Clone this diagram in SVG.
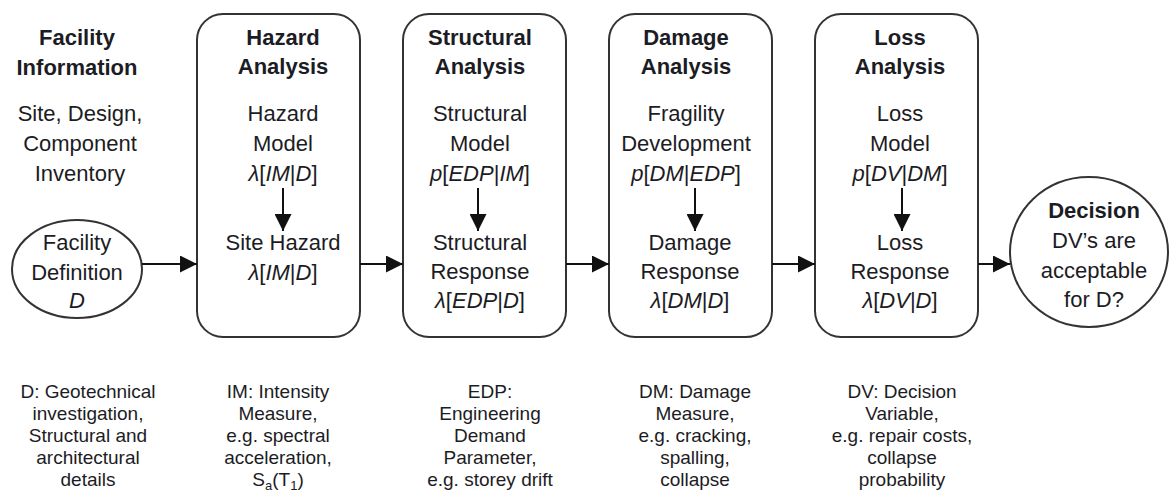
<svg xmlns="http://www.w3.org/2000/svg" width="1172" height="496" viewBox="0 0 1172 496">
<style>
text{font-family:"Liberation Sans",Arial,sans-serif;fill:#1c1c24;text-anchor:middle}
.t{font-size:22px}
.b{font-size:22px;font-weight:bold}
.s{font-size:19px}
.i{font-style:italic}
.box{fill:#fff;stroke:#333;stroke-width:2}
.ln{stroke:#111;stroke-width:2;fill:none}
</style>
<defs>
<marker id="ah" viewBox="0 0 10 10" refX="10" refY="5" markerWidth="8" markerHeight="8" markerUnits="userSpaceOnUse" orient="auto">
<path d="M0,0 L10,5 L0,10 z" fill="#111"/>
</marker>
<marker id="ahb" viewBox="0 0 10 10" refX="10" refY="5" markerWidth="17" markerHeight="17" markerUnits="userSpaceOnUse" orient="auto">
<path d="M0,0 L10,5 L0,10 z" fill="#111"/>
</marker>
</defs>
<rect width="1172" height="496" fill="#fff"/>

<g id="facility">
<text class="b" x="77" y="45">Facility</text>
<text class="b" x="77" y="75">Information</text>
<text class="t" x="80" y="121">Site, Design,</text>
<text class="t" x="80" y="151">Component</text>
<text class="t" x="80" y="181">Inventory</text>
<ellipse cx="77" cy="269" rx="65" ry="49" class="box"/>
<text class="t" x="77" y="250">Facility</text>
<text class="t" x="77" y="280">Definition</text>
<text class="t i" x="77" y="308">D</text>
<text class="s" x="88" y="398">D: Geotechnical</text>
<text class="s" x="88" y="420">investigation,</text>
<text class="s" x="88" y="442">Structural and</text>
<text class="s" x="88" y="464">architectural</text>
<text class="s" x="88" y="486">details</text>
</g>

<g id="hazard">
<rect x="197" y="14" width="163" height="323" rx="26" class="box"/>
<text class="b" x="283" y="45">Hazard</text>
<text class="b" x="283" y="74">Analysis</text>
<text class="t" x="283" y="121">Hazard</text>
<text class="t" x="283" y="151">Model</text>
<text class="t" x="283" y="181"><tspan class="i">λ</tspan>[<tspan class="i">IM</tspan>|<tspan class="i">D</tspan>]</text>
<text class="t" x="283" y="250">Site Hazard</text>
<text class="t" x="283" y="280"><tspan class="i">λ</tspan>[<tspan class="i">IM</tspan>|<tspan class="i">D</tspan>]</text>
<text class="s" x="278" y="398">IM: Intensity</text>
<text class="s" x="278" y="420">Measure,</text>
<text class="s" x="278" y="442">e.g. spectral</text>
<text class="s" x="278" y="464">acceleration,</text>
<text class="s" x="278" y="486">S<tspan font-size="13" dy="4">a</tspan><tspan dy="-4">(T</tspan><tspan font-size="13" dy="4">1</tspan><tspan dy="-4">)</tspan></text>
</g>

<g id="structural">
<rect x="403" y="14" width="163" height="323" rx="26" class="box"/>
<text class="b" x="480" y="45">Structural</text>
<text class="b" x="480" y="74">Analysis</text>
<text class="t" x="480" y="121">Structural</text>
<text class="t" x="480" y="151">Model</text>
<text class="t" x="480" y="181"><tspan class="i">p</tspan>[<tspan class="i">EDP</tspan>|<tspan class="i">IM</tspan>]</text>
<text class="t" x="480" y="250">Structural</text>
<text class="t" x="480" y="279">Response</text>
<text class="t" x="480" y="308"><tspan class="i">λ</tspan>[<tspan class="i">EDP</tspan>|<tspan class="i">D</tspan>]</text>
<text class="s" x="490" y="398">EDP:</text>
<text class="s" x="490" y="420">Engineering</text>
<text class="s" x="490" y="442">Demand</text>
<text class="s" x="490" y="464">Parameter,</text>
<text class="s" x="490" y="486">e.g. storey drift</text>
</g>

<g id="damage">
<rect x="609" y="14" width="163" height="323" rx="26" class="box"/>
<text class="b" x="686" y="45">Damage</text>
<text class="b" x="686" y="74">Analysis</text>
<text class="t" x="686" y="121">Fragility</text>
<text class="t" x="686" y="151">Development</text>
<text class="t" x="686" y="181"><tspan class="i">p</tspan>[<tspan class="i">DM</tspan>|<tspan class="i">EDP</tspan>]</text>
<text class="t" x="690" y="250">Damage</text>
<text class="t" x="690" y="279">Response</text>
<text class="t" x="690" y="308"><tspan class="i">λ</tspan>[<tspan class="i">DM</tspan>|<tspan class="i">D</tspan>]</text>
<text class="s" x="695" y="398">DM: Damage</text>
<text class="s" x="695" y="420">Measure,</text>
<text class="s" x="695" y="442">e.g. cracking,</text>
<text class="s" x="695" y="464">spalling,</text>
<text class="s" x="695" y="486">collapse</text>
</g>

<g id="loss">
<rect x="815" y="14" width="163" height="323" rx="26" class="box"/>
<text class="b" x="900" y="45">Loss</text>
<text class="b" x="900" y="74">Analysis</text>
<text class="t" x="900" y="121">Loss</text>
<text class="t" x="900" y="151">Model</text>
<text class="t" x="900" y="181"><tspan class="i">p</tspan>[<tspan class="i">DV</tspan>|<tspan class="i">DM</tspan>]</text>
<text class="t" x="900" y="250">Loss</text>
<text class="t" x="900" y="279">Response</text>
<text class="t" x="900" y="308"><tspan class="i">λ</tspan>[<tspan class="i">DV</tspan>|<tspan class="i">D</tspan>]</text>
<text class="s" x="902" y="398">DV: Decision</text>
<text class="s" x="902" y="420">Variable,</text>
<text class="s" x="902" y="442">e.g. repair costs,</text>
<text class="s" x="902" y="464">collapse</text>
<text class="s" x="902" y="486">probability</text>
</g>

<g id="decision">
<ellipse cx="1089" cy="252" rx="79" ry="75" class="box"/>
<text class="b" x="1094" y="218">Decision</text>
<text class="t" x="1094" y="248">DV’s are</text>
<text class="t" x="1094" y="278">acceptable</text>
<text class="t" x="1094" y="307">for D?</text>
</g>

<g id="connectors">
<line x1="142" y1="264" x2="197" y2="264" class="ln" marker-end="url(#ahb)"/>
<line x1="360" y1="264" x2="403" y2="264" class="ln" marker-end="url(#ahb)"/>
<line x1="566" y1="264" x2="609" y2="264" class="ln" marker-end="url(#ahb)"/>
<line x1="772" y1="264" x2="815" y2="264" class="ln" marker-end="url(#ahb)"/>
<line x1="978" y1="264" x2="1010" y2="264" class="ln" marker-end="url(#ahb)"/>
<line x1="283" y1="188" x2="283" y2="231" class="ln" marker-end="url(#ahb)"/>
<line x1="478" y1="188" x2="478" y2="231" class="ln" marker-end="url(#ahb)"/>
<line x1="695" y1="188" x2="695" y2="231" class="ln" marker-end="url(#ahb)"/>
<line x1="902" y1="188" x2="902" y2="231" class="ln" marker-end="url(#ahb)"/>
</g>
</svg>
